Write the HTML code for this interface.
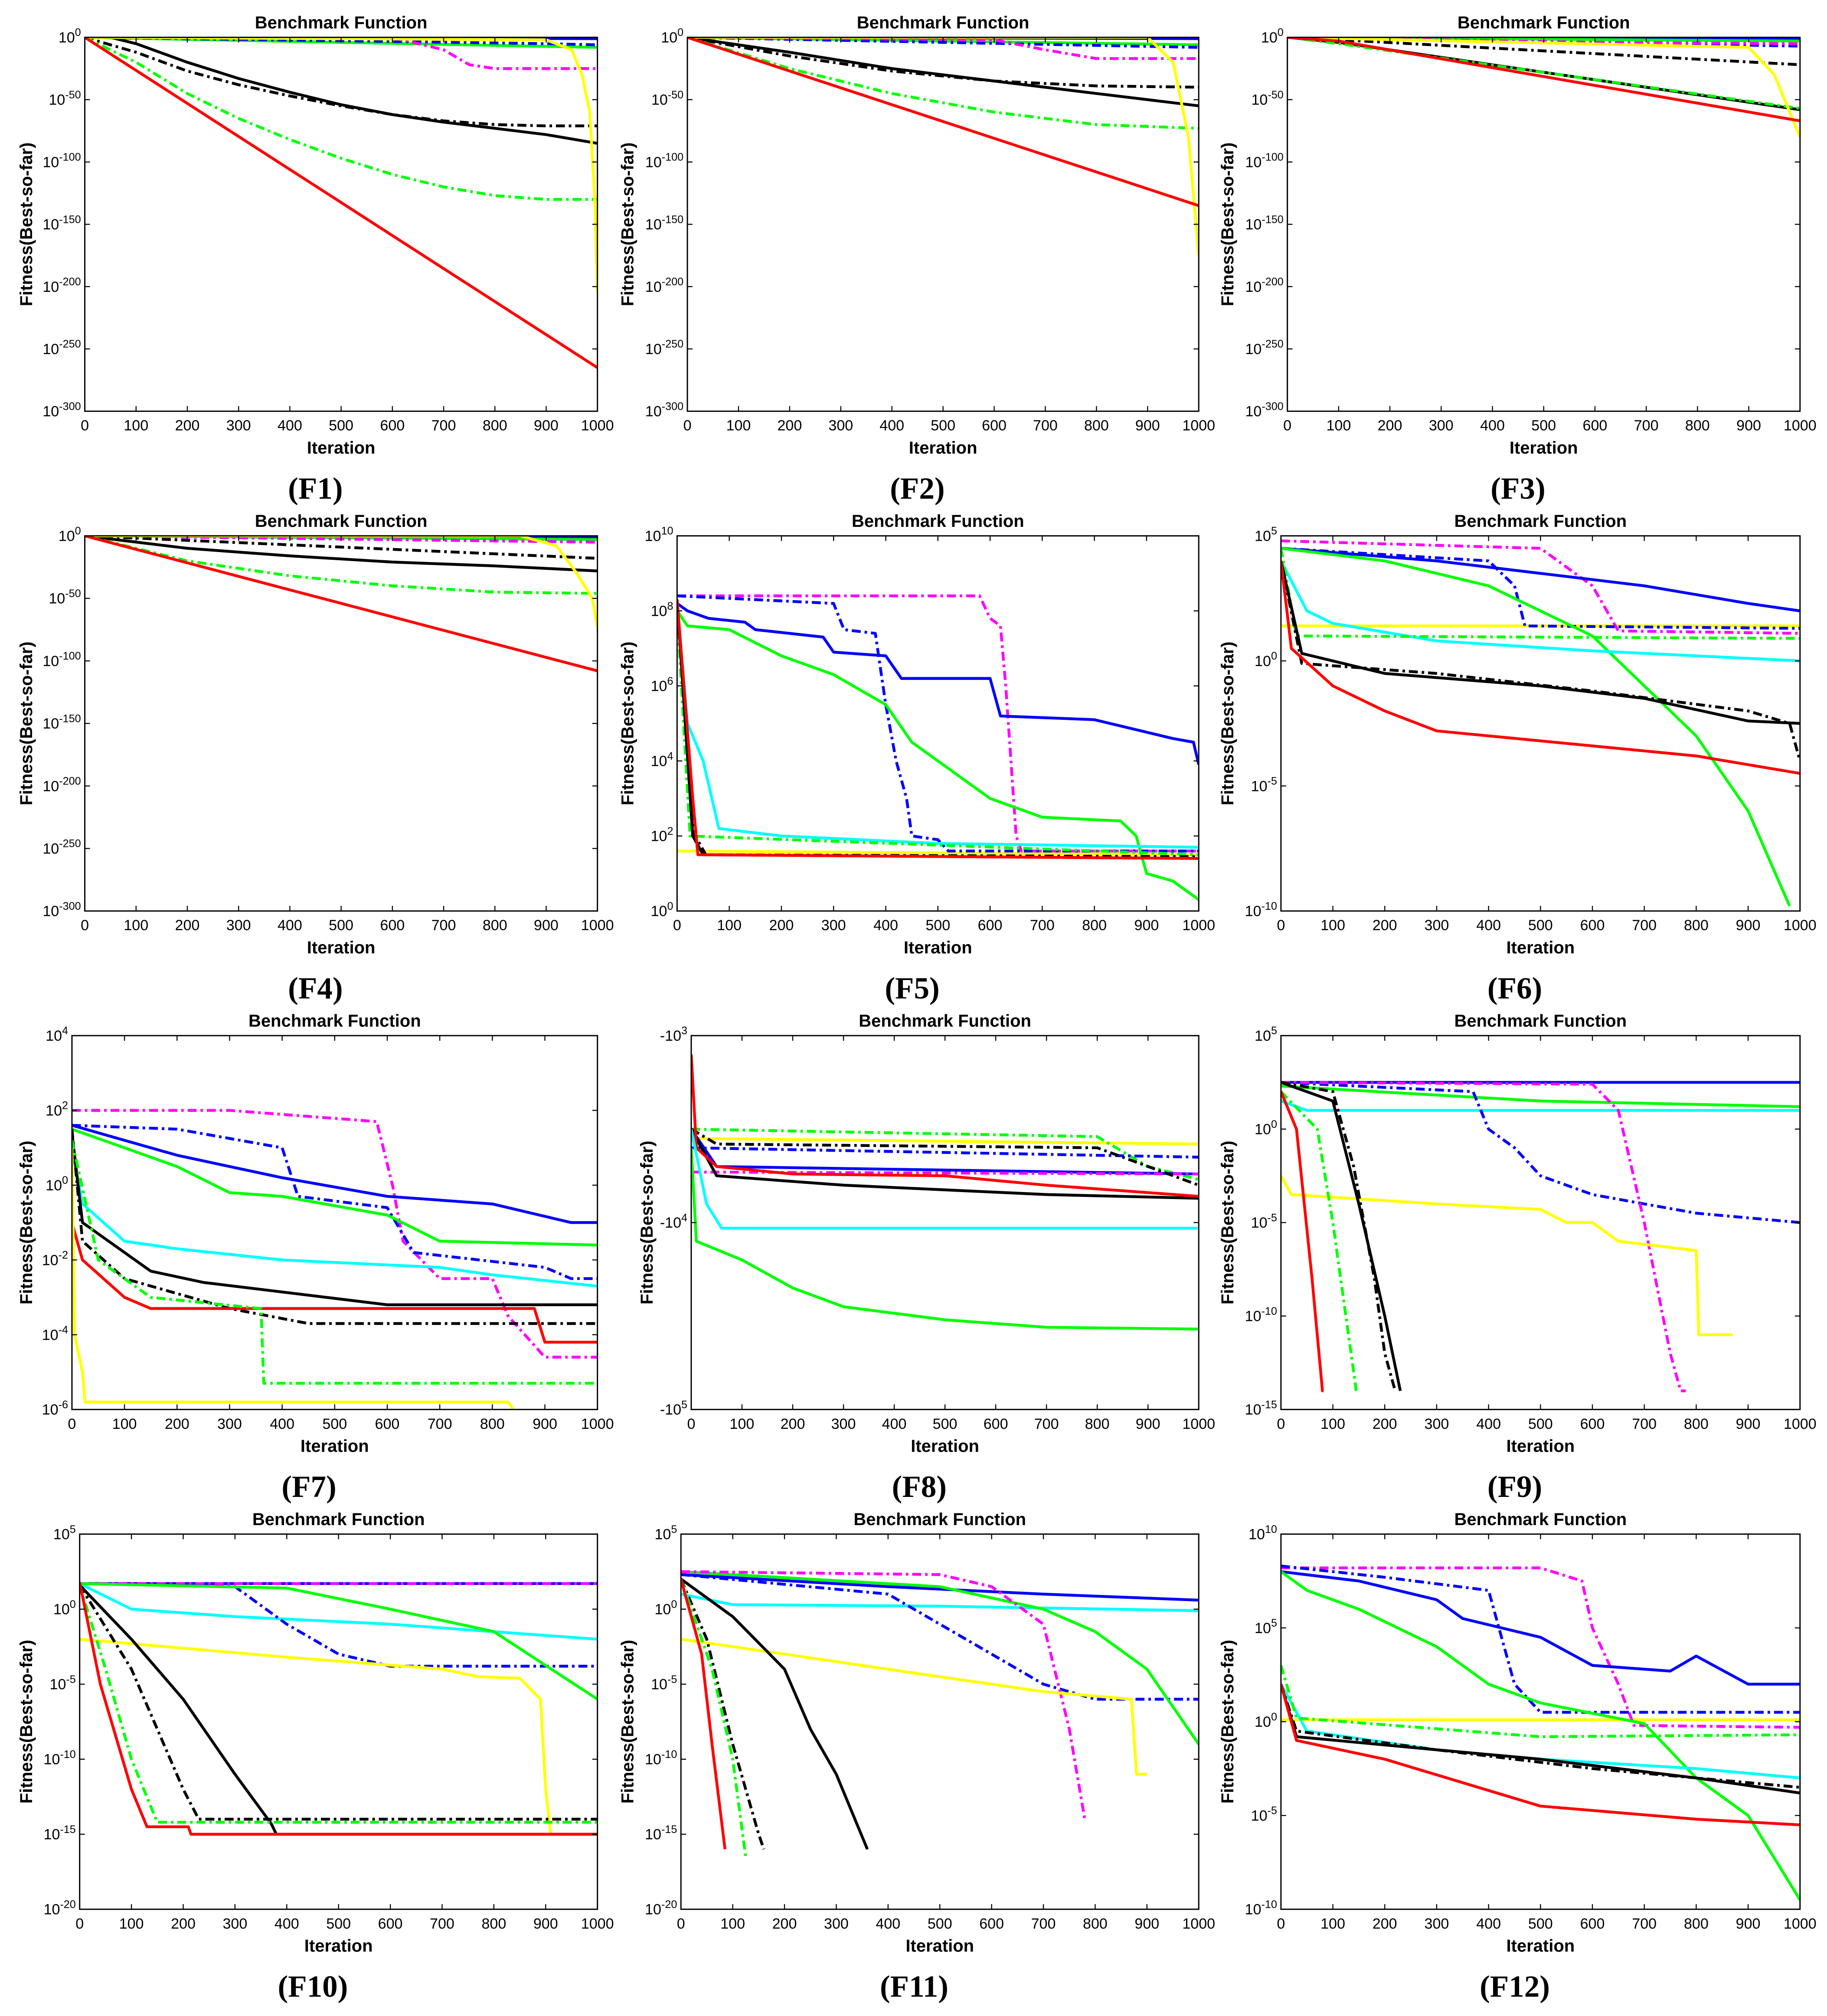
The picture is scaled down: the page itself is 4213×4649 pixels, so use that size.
<!DOCTYPE html>
<html><head><meta charset="utf-8"><style>
html,body{margin:0;padding:0;background:#fff;}
svg{display:block;}
</style></head><body>
<svg id="chart" xmlns="http://www.w3.org/2000/svg" width="4213" height="4649" viewBox="0 0 1422 1569" font-family="Liberation Sans, sans-serif">
<rect x="0" y="0" width="1422" height="1569" fill="#fff"/>
</svg>
<script>
// Data: flat [iteration, log10(|fitness|), ...] pairs
const F1_r=[0,0,1000,-265];
const F1_gd=[0,0,100,-20,200,-45,300,-65,400,-82,500,-97,600,-110,700,-120,800,-127,900,-130,1000,-130];
const F1_k=[0,0,50,0,100,-5,200,-20,300,-33,400,-44,500,-54,600,-62,700,-68,800,-73,900,-78,1000,-85];
const F1_kd=[0,0,100,-12,200,-27,300,-38,400,-47,500,-55,600,-62,700,-67,800,-70,900,-71,1000,-71];
const F1_y=[0,0,900,-2,950,-10,970,-30,985,-60,995,-130,1000,-205];
const F1_m=[0,0,600,0,700,-10,750,-22,800,-25,1000,-25];
const F1_bd=[0,0,900,-5,1000,-6];
const F1_c=[0,0,1000,-1];
const F1_g=[0,0,1000,-8];
const F1_b=[0,0,1000,-1];

const F2_r=[0,0,1000,-135];
const F2_gd=[0,0,200,-25,400,-45,600,-60,800,-70,1000,-73];
const F2_k=[0,0,200,-12,400,-25,600,-35,800,-45,1000,-55];
const F2_kd=[0,0,200,-15,400,-27,600,-35,800,-39,1000,-40];
const F2_y=[0,0,900,0,950,-20,980,-80,1000,-175];
const F2_m=[0,0,600,-2,700,-10,800,-17,1000,-17];
const F2_bd=[0,0,1000,-8];
const F2_c=[0,0,1000,0];
const F2_g=[0,0,1000,-6];
const F2_b=[0,0,1000,-1];

const F3_r=[0,0,100,-3,1000,-67];
const F3_gd=[0,0,100,-5,1000,-57];
const F3_k=[0,0,100,-4,1000,-58];
const F3_kd=[0,0,100,-2,1000,-22];
const F3_y=[0,0,900,-8,950,-30,1000,-80];
const F3_m=[0,0,600,-4,1000,-5];
const F3_bd=[0,0,1000,-7];
const F3_c=[0,0,1000,-2];
const F3_g=[0,0,1000,-3];
const F3_b=[0,0,1000,-1];

const F4_r=[0,0,1000,-108];
const F4_gd=[0,0,200,-20,400,-32,600,-40,800,-45,1000,-46];
const F4_k=[0,0,200,-10,400,-16,600,-21,800,-24,1000,-28];
const F4_kd=[0,0,1000,-18];
const F4_y=[0,0,850,0,920,-8,960,-30,990,-50,1000,-73];
const F4_m=[0,0,1000,-5];
const F4_bd=[0,0,1000,-5];
const F4_c=[0,0,1000,0];
const F4_g=[0,0,1000,-3];
const F4_b=[0,0,1000,-1];

const F5_m=[0,8.4,580,8.4,600,7.8,620,7.6,630,6,650,2,660,1.6,1000,1.6];
const F5_bd=[0,8.4,300,8.2,320,7.5,380,7.4,400,5.5,420,4,440,3,450,2,500,1.9,520,1.6,1000,1.6];
const F5_b=[0,8.2,20,8,60,7.8,130,7.7,150,7.5,280,7.3,300,6.9,400,6.8,430,6.2,600,6.2,620,5.2,800,5.1,950,4.6,990,4.5,1000,3.9];
const F5_g=[0,8,20,7.6,100,7.5,200,6.8,300,6.3,400,5.5,450,4.5,500,4,600,3,700,2.5,850,2.4,880,2,900,1,950,0.8,1000,0.3];
const F5_c=[0,8.2,20,5,50,4,80,2.2,200,2,500,1.8,1000,1.7];
const F5_r=[0,8.3,30,3,40,1.5,1000,1.4];
const F5_k=[0,8.3,30,2,50,1.5,1000,1.4];
const F5_kd=[0,8.3,35,2,55,1.5,1000,1.45];
const F5_gd=[0,8,25,2,1000,1.5];
const F5_y=[0,1.6,1000,1.5];

const F6_b=[0,4.5,300,4,500,3.5,700,3,900,2.3,1000,2];
const F6_bd=[0,4.5,400,4,450,3,470,1.4,1000,1.3];
const F6_m=[0,4.8,500,4.5,600,3,650,1.2,1000,1.1];
const F6_y=[0,1.4,1000,1.4];
const F6_gd=[0,4.5,30,1,1000,0.9];
const F6_c=[0,4,50,2,100,1.5,300,0.8,600,0.4,1000,0];
const F6_g=[0,4.5,200,4,400,3,600,1,700,-1,800,-3,900,-6,980,-9.8];
const F6_k=[0,4,40,0.3,200,-0.5,500,-1,700,-1.5,900,-2.4,1000,-2.5];
const F6_kd=[0,4,40,-0.1,300,-0.5,600,-1.2,900,-2,980,-2.5,1000,-4];
const F6_r=[0,4,20,0.5,100,-1,200,-2,300,-2.8,500,-3.2,800,-3.8,1000,-4.5];

const F7_m=[0,2,300,2,580,1.7,610,0,630,-1.5,700,-2.5,800,-2.5,830,-3.5,900,-4.6,1000,-4.6];
const F7_b=[0,1.6,100,1.2,200,0.8,300,0.5,400,0.2,600,-0.3,800,-0.5,950,-1,1000,-1];
const F7_bd=[0,1.6,200,1.5,400,1,430,-0.3,600,-0.6,650,-1.8,900,-2.2,950,-2.5,1000,-2.5];
const F7_g=[0,1.5,100,1,200,0.5,300,-0.2,400,-0.3,600,-0.8,700,-1.5,1000,-1.6];
const F7_c=[0,1,20,-0.5,100,-1.5,200,-1.7,400,-2,700,-2.2,800,-2.4,1000,-2.7];
const F7_k=[0,1.4,20,-1,100,-1.8,150,-2.3,250,-2.6,600,-3.2,1000,-3.2];
const F7_kd=[0,1.5,20,-1.5,100,-2.5,300,-3.3,450,-3.7,1000,-3.7];
const F7_r=[0,-1,20,-2,100,-3,150,-3.3,880,-3.3,900,-4.2,1000,-4.2];
const F7_gd=[0,1.2,50,-2,150,-3,360,-3.3,365,-5.3,1000,-5.3];
const F7_y=[0,1,5,-4,20,-5,25,-5.8,830,-5.8,840,-6];

const F8_r=[0,3.1,10,3.6,50,3.7,200,3.74,500,3.75,700,3.8,1000,3.86];
const F8_c=[0,3.5,30,3.9,60,4.03,1000,4.03];
const F8_g=[0,3.6,10,4.1,100,4.2,200,4.35,300,4.45,500,4.52,700,4.56,1000,4.57];
const F8_y=[0,3.55,1000,3.58];
const F8_gd=[0,3.5,800,3.54,900,3.7,1000,3.77];
const F8_bd=[0,3.6,1000,3.65];
const F8_b=[0,3.5,50,3.7,1000,3.74];
const F8_m=[0,3.73,1000,3.74];
const F8_k=[0,3.5,50,3.75,300,3.8,700,3.85,1000,3.87];
const F8_kd=[0,3.5,50,3.58,800,3.6,1000,3.8];

const F9_b=[0,2.5,1000,2.5];
const F9_m=[0,2.5,600,2.4,650,1,700,-5,750,-12,770,-14,780,-14];
const F9_bd=[0,2.5,370,2,400,0,450,-1,500,-2.5,600,-3.5,700,-4,800,-4.5,1000,-5];
const F9_g=[0,2.3,500,1.5,1000,1.2];
const F9_c=[0,1.5,50,1,1000,1];
const F9_y=[0,-2.5,20,-3.5,300,-4,500,-4.3,550,-5,600,-5,650,-6,800,-6.5,805,-11,870,-11];
const F9_r=[0,2,30,0,60,-8,80,-14,82,-14];
const F9_gd=[0,2,70,0,100,-5,140,-13,145,-14];
const F9_kd=[0,2.5,100,2,140,-2,180,-8,200,-12,220,-14];
const F9_k=[0,2.5,100,1.5,150,-4,200,-10,230,-14];

const F10_m=[0,1.7,1000,1.7];
const F10_b=[0,1.7,1000,1.7];
const F10_bd=[0,1.7,300,1.5,400,-1,500,-3,600,-3.8,1000,-3.8];
const F10_g=[0,1.7,400,1.4,600,0,800,-1.5,1000,-6];
const F10_c=[0,1.7,100,0,300,-0.5,600,-1,1000,-2];
const F10_y=[0,-2,400,-3.2,700,-4,770,-4.5,850,-4.6,890,-6,900,-12,910,-15,1000,-15];
const F10_r=[0,1.8,40,-5,100,-12,130,-14.5,210,-14.5,215,-15,1000,-15];
const F10_gd=[0,1.6,50,-4,100,-10,150,-14.2,1000,-14.2];
const F10_kd=[0,1.6,100,-4,200,-12,230,-14,1000,-14];
const F10_k=[0,1.6,100,-2,200,-6,300,-11,370,-14.3,380,-15,1000,-15];

const F11_m=[0,2.5,500,2.3,600,1.5,700,-1,750,-8,780,-14];
const F11_b=[0,2.3,400,1.5,700,1,1000,0.6];
const F11_bd=[0,2.3,400,1,500,-1,600,-3,700,-5,800,-6,1000,-6];
const F11_g=[0,2.5,500,1.5,700,0,800,-1.5,900,-4,1000,-9];
const F11_c=[0,1,100,0.3,500,0.2,1000,-0.1];
const F11_y=[0,-2,200,-3,500,-4.5,700,-5.5,870,-6,880,-11,900,-11];
const F11_r=[0,2,40,-3,60,-9,85,-16];
const F11_gd=[0,2,60,-4,100,-10,125,-16.5];
const F11_kd=[0,2,50,-2,100,-9,150,-15,160,-16];
const F11_k=[0,2,100,-0.5,200,-4,250,-8,300,-11,360,-16];

const F12_m=[0,8.2,500,8.2,580,7.5,600,5,650,2,680,-0.2,1000,-0.3];
const F12_b=[0,8,150,7.5,300,6.5,350,5.5,500,4.5,600,3,750,2.7,800,3.5,900,2,1000,2];
const F12_bd=[0,8.3,200,7.7,400,7,430,4,450,2,500,0.5,1000,0.5];
const F12_g=[0,8,50,7,150,6,300,4,400,2,500,1,700,-0.1,800,-3,900,-5,1000,-9.5];
const F12_c=[0,2,50,-0.5,300,-1.5,500,-2,800,-2.5,1000,-3];
const F12_y=[0,0.1,1000,0.1];
const F12_gd=[0,3,30,0.2,500,-0.8,1000,-0.7];
const F12_kd=[0,2,30,-0.5,300,-1.5,600,-2.5,800,-3,1000,-3.5];
const F12_k=[0,2,30,-0.8,300,-1.5,500,-2,800,-3,1000,-3.8];
const F12_r=[0,2,30,-1,200,-2,500,-4.5,800,-5.2,1000,-5.5];

const xTicks=[0,100,200,300,400,500,600,700,800,900,1000];
const yTicks14=[0,-50,-100,-150,-200,-250,-300];
const yTicks5=[0,2,4,6,8,10];
const yTicks6=[-10,-5,0,5];
const yTicks7=[-6,-4,-2,0,2,4];
const yTicks8=[3,4,5];
const yTicks9=[-15,-10,-5,0,5];
const yTicks10=[-20,-15,-10,-5,0,5];
const yTicks12=[-10,-5,0,5,10];

const DATA={
F1:{c:F1_c,b:F1_b,g:F1_g,bd:F1_bd,m:F1_m,kd:F1_kd,k:F1_k,gd:F1_gd,y:F1_y,r:F1_r},
F2:{c:F2_c,b:F2_b,g:F2_g,bd:F2_bd,m:F2_m,kd:F2_kd,k:F2_k,gd:F2_gd,y:F2_y,r:F2_r},
F3:{c:F3_c,b:F3_b,g:F3_g,bd:F3_bd,m:F3_m,kd:F3_kd,k:F3_k,gd:F3_gd,y:F3_y,r:F3_r},
F4:{c:F4_c,b:F4_b,g:F4_g,bd:F4_bd,m:F4_m,kd:F4_kd,k:F4_k,gd:F4_gd,y:F4_y,r:F4_r},
F5:{y:F5_y,m:F5_m,bd:F5_bd,b:F5_b,g:F5_g,c:F5_c,gd:F5_gd,kd:F5_kd,k:F5_k,r:F5_r},
F6:{y:F6_y,m:F6_m,bd:F6_bd,b:F6_b,g:F6_g,c:F6_c,gd:F6_gd,kd:F6_kd,k:F6_k,r:F6_r},
F7:{m:F7_m,bd:F7_bd,b:F7_b,g:F7_g,c:F7_c,kd:F7_kd,k:F7_k,r:F7_r,gd:F7_gd,y:F7_y},
F8:{y:F8_y,gd:F8_gd,bd:F8_bd,b:F8_b,m:F8_m,kd:F8_kd,k:F8_k,r:F8_r,c:F8_c,g:F8_g},
F9:{b:F9_b,g:F9_g,c:F9_c,bd:F9_bd,m:F9_m,y:F9_y,kd:F9_kd,k:F9_k,gd:F9_gd,r:F9_r},
F10:{b:F10_b,m:F10_m,c:F10_c,bd:F10_bd,g:F10_g,y:F10_y,kd:F10_kd,k:F10_k,gd:F10_gd,r:F10_r},
F11:{b:F11_b,c:F11_c,bd:F11_bd,g:F11_g,m:F11_m,y:F11_y,kd:F11_kd,k:F11_k,gd:F11_gd,r:F11_r},
F12:{y:F12_y,m:F12_m,b:F12_b,bd:F12_bd,g:F12_g,c:F12_c,gd:F12_gd,kd:F12_kd,k:F12_k,r:F12_r}
};
const STYLE={r:["#ff0000",""],gd:["#00ff00","7,3,2,3"],k:["#000000",""],kd:["#000000","7,3,2,3"],
b:["#0000ff",""],bd:["#0000ff","7,3,2,3"],m:["#ff00ff","7,3,2,3"],c:["#00ffff",""],y:["#ffff00",""],g:["#00ff00",""]};

const PANELS=[
{id:"F1",x0:66,x1:465,y0:29,y1:320,top:0,bot:-300,ticks:yTicks14,ytx:20},
{id:"F2",x0:535,x1:933,y0:29,y1:320,top:0,bot:-300,ticks:yTicks14,ytx:488},
{id:"F3",x0:1002,x1:1401,y0:29,y1:320,top:0,bot:-300,ticks:yTicks14,ytx:955},
{id:"F4",x0:66,x1:465,y0:417,y1:709,top:0,bot:-300,ticks:yTicks14,ytx:20},
{id:"F5",x0:527,x1:933,y0:417,y1:709,top:10,bot:0,ticks:yTicks5,ytx:488},
{id:"F6",x0:997,x1:1401,y0:417,y1:709,top:5,bot:-10,ticks:yTicks6,ytx:955},
{id:"F7",x0:56,x1:465,y0:806,y1:1097,top:4,bot:-6,ticks:yTicks7,ytx:20},
{id:"F8",x0:538,x1:933,y0:806,y1:1097,top:3,bot:5,ticks:yTicks8,neg:true,ytx:503},
{id:"F9",x0:997,x1:1401,y0:806,y1:1097,top:5,bot:-15,ticks:yTicks9,ytx:955},
{id:"F10",x0:62,x1:465,y0:1194,y1:1486,top:5,bot:-20,ticks:yTicks10,ytx:20},
{id:"F11",x0:530,x1:933,y0:1194,y1:1486,top:5,bot:-20,ticks:yTicks10,ytx:488},
{id:"F12",x0:997,x1:1401,y0:1194,y1:1486,top:10,bot:-10,ticks:yTicks12,ytx:955}
];
const NS="http://www.w3.org/2000/svg";
const svg=document.getElementById("chart");
function mk(tag,attrs,parent){const e=document.createElementNS(NS,tag);for(const k in attrs)e.setAttribute(k,attrs[k]);(parent||svg).appendChild(e);return e;}

PANELS.forEach(p=>{
  const g=mk("g",{});
  
  
  const sx=v=>p.x0+(v/1000)*(p.x1-p.x0);
  const sy=v=>p.y0+(p.top-v)/(p.top-p.bot)*(p.y1-p.y0);
  const cx=(p.x0+p.x1)/2;
  const t=mk("text",{x:cx,y:p.y0-7,"text-anchor":"middle","font-size":13.5,"font-weight":"bold"},g);
  t.textContent="Benchmark Function";
  
  
  const cid="clip"+p.id;
  const cp=mk("clipPath",{id:cid},g);
  mk("rect",{x:p.x0,y:p.y0,width:p.x1-p.x0,height:p.y1-p.y0},cp);
  const sg=mk("g",{"clip-path":"url(#"+cid+")"},g);
  const d=DATA[p.id];
  Object.keys(d).forEach(key=>{
    const arr=d[key];let pts=[];
    for(let i=0;i<arr.length;i+=2)pts.push(sx(arr[i]).toFixed(1)+","+sy(arr[i+1]).toFixed(1));
    const st=STYLE[key];
    const pl=mk("polyline",{points:pts.join(" "),fill:"none",stroke:st[0],"stroke-width":2.2,"stroke-linejoin":"round"},sg);
    if(st[1])pl.setAttribute("stroke-dasharray",st[1]);
    
    
  });
  const bx=mk("rect",{x:p.x0,y:p.y0,width:p.x1-p.x0,height:p.y1-p.y0,fill:"none",stroke:"#000","stroke-width":1},g);
  
  
  xTicks.forEach(v=>{
    const x=sx(v);
    mk("line",{x1:x,x2:x,y1:p.y1,y2:p.y1-4,stroke:"#000","stroke-width":0.8},g);
    mk("line",{x1:x,x2:x,y1:p.y0,y2:p.y0+4,stroke:"#000","stroke-width":0.8},g);
    const tx=mk("text",{x:x,y:p.y1+15,"text-anchor":"middle","font-size":11.5},g);
    tx.textContent=v;
    
    
  });
  const xl=mk("text",{x:cx,y:p.y1+33,"text-anchor":"middle","font-size":13.5,"font-weight":"bold"},g);
  xl.textContent="Iteration";
  
  
  p.ticks.forEach(v=>{
    const y=sy(v);
    mk("line",{x1:p.x0,x2:p.x0+4,y1:y,y2:y,stroke:"#000","stroke-width":0.8},g);
    mk("line",{x1:p.x1,x2:p.x1-4,y1:y,y2:y,stroke:"#000","stroke-width":0.8},g);
    const ty=mk("text",{x:p.x0-3,y:y+4,"text-anchor":"end","font-size":11.5},g);
    
    
    const base=mk("tspan",{},ty);base.textContent=(p.neg?"-":"")+"10";
    const sup=mk("tspan",{dy:-5,"font-size":8.5},ty);sup.textContent=String(v);
  });
  const yl=mk("text",{x:0,y:0,"text-anchor":"middle","font-size":13.5,"font-weight":"bold",
    transform:"translate("+(p.ytx+5)+","+((p.y0+p.y1)/2)+") rotate(-90)"},g);
  yl.textContent="Fitness(Best-so-far)";
  
  
  const lb=mk("text",{x:cx-20,y:p.y1+68,"text-anchor":"middle","font-size":24,"font-weight":"bold","font-family":"Liberation Serif, serif"},g);
  lb.textContent="("+p.id+")";
  
  
});
</script>
</body></html>
